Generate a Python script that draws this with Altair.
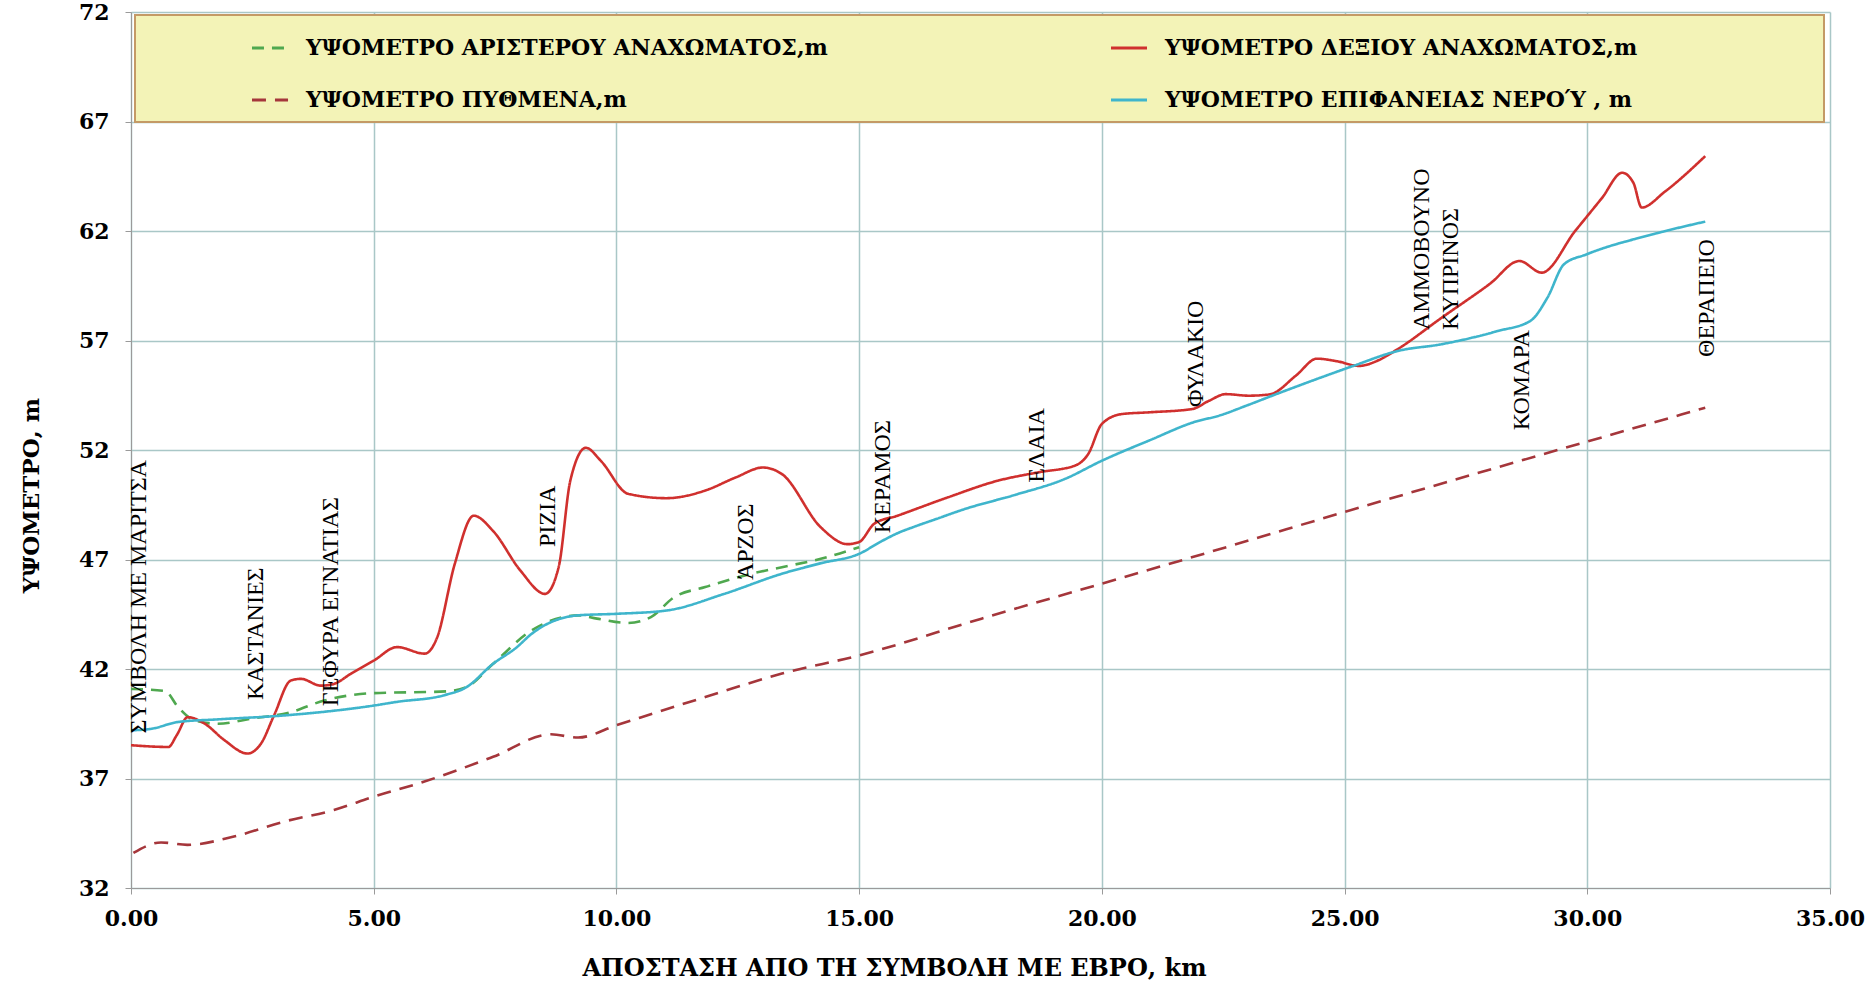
import altair as alt
import pandas as pd

# ---- series (km, m) ----
RIGHT_KM = [0.0, 0.77, 0.94, 1.17, 1.52, 1.93, 2.4, 2.68, 2.95, 3.29, 3.5, 3.91, 4.18, 4.52, 5.0, 5.48,
            6.05, 6.3, 6.67, 7.06, 7.46, 8.02, 8.53, 8.81, 9.05, 9.37, 9.68, 10.24, 11.03, 11.83, 12.46,
            13.02, 13.41, 14.21, 14.76, 15.0, 15.31, 15.79, 16.83, 17.86, 18.69, 19.45, 19.72, 20.0,
            20.41, 20.97, 21.86, 22.21, 22.55, 23.03, 23.46, 24.0, 24.43, 24.85, 25.3, 25.7, 26.09,
            27.0, 28.0, 28.6, 29.06, 29.75, 30.3, 30.72, 30.95, 31.12, 31.6, 32.43]
RIGHT_M = [38.52, 38.44, 38.97, 39.8, 39.5, 38.74, 38.14, 38.6, 39.9, 41.47, 41.55, 41.24, 41.32, 41.77,
           42.38, 43.0, 42.7, 43.4, 46.8, 49.0, 48.3, 46.5, 45.43, 46.65, 50.6, 52.1, 51.5, 50.0, 49.8,
           50.15, 50.75, 51.2, 50.9, 48.47, 47.7, 47.8, 48.63, 49.0, 49.84, 50.6, 50.98, 51.29, 51.82,
           53.19, 53.64, 53.72, 53.87, 54.25, 54.55, 54.48, 54.54, 55.4, 56.17, 56.05, 55.84, 56.1,
           56.6, 58.04, 59.6, 60.63, 60.1, 62.0, 63.5, 64.66, 64.2, 63.07, 63.8, 65.42]

WATER_KM = [0.0, 0.42, 0.97, 1.79, 3.16, 5.0, 5.48, 6.43, 6.91, 7.46, 7.94, 8.25, 9.21, 10.0, 11.03,
            12.22, 13.41, 14.21, 15.0, 15.45, 15.79, 16.14, 16.59, 17.17, 18.21, 19.24, 20.0,
            20.97, 22.0, 22.34, 23.03, 23.58, 24.5, 25.18, 26.09, 27.0, 28.15, 28.83, 29.18, 29.52,
            29.98, 31.35, 32.43]
WATER_M = [39.2, 39.27, 39.58, 39.7, 39.88, 40.33, 40.5, 40.79, 41.17, 42.24, 42.98, 43.6, 44.45, 44.52,
           44.67, 45.43, 46.35, 46.83, 47.26, 47.82, 48.2, 48.5, 48.85, 49.3, 49.95, 50.68,
           51.51, 52.43, 53.34, 53.52, 54.07, 54.54, 55.3, 55.84, 56.52, 56.83, 57.43, 57.9, 58.96,
           60.48, 60.93, 61.85, 62.43]

LEFT_KM = [0.0, 0.7, 0.97, 1.31, 1.79, 2.47, 3.29, 3.98, 4.93, 6.5, 6.91, 7.46, 8.25, 9.21, 9.6, 10.24,
           10.71, 11.19, 11.83, 12.78, 13.41, 14.21, 15.0]
LEFT_M = [41.09, 41.0, 40.26, 39.65, 39.5, 39.73, 40.03, 40.56, 40.89, 40.98, 41.17, 42.24, 43.76, 44.45,
          44.3, 44.1, 44.37, 45.28, 45.74, 46.35, 46.65, 47.03, 47.56]

BED_KM = [0.05, 0.62, 1.16, 2.12, 3.15, 4.18, 5.0, 6.03, 7.46, 8.65, 9.21, 10.0, 11.83, 13.41, 15.0,
          17.52, 20.0, 23.03, 23.8, 32.43]
BED_M = [33.6, 34.08, 33.97, 34.35, 35.03, 35.56, 36.17, 36.85, 37.99, 39.02, 38.87, 39.43, 40.72, 41.79,
         42.62, 44.3, 45.9, 47.87, 48.38, 53.93]

S_LEFT = "ΥΨΟΜΕΤΡΟ ΑΡΙΣΤΕΡΟΥ ΑΝΑΧΩΜΑΤΟΣ,m"
S_RIGHT = "ΥΨΟΜΕΤΡΟ  ΔΕΞΙΟΥ ΑΝΑΧΩΜΑΤΟΣ,m"
S_BED = "ΥΨΟΜΕΤΡΟ ΠΥΘΜΕΝΑ,m"
S_WATER = "ΥΨΟΜΕΤΡΟ  ΕΠΙΦΑΝΕΙΑΣ ΝΕΡΟΎ , m"
# legend fills column by column: left column = left bank, bed; right column = right bank, water
SERIES = [S_LEFT, S_BED, S_RIGHT, S_WATER]
COLORS = ["#4FA84F", "#A5363B", "#D0302E", "#3FB5CC"]
DASHES = [[12, 8], [14, 9], [1, 0], [1, 0]]

# ---- place labels ----
PLACES = ["ΣΥΜΒΟΛΗ ΜΕ ΜΑΡΙΤΣΑ", "ΚΑΣΤΑΝΙΕΣ", "ΓΕΦΥΡΑ ΕΓΝΑΤΙΑΣ", "ΡΙΖΙΑ", "ΆΡΖΟΣ", "ΚΕΡΑΜΟΣ",
          "ΕΛΑΙΑ", "ΦΥΛΑΚΙΟ", "ΑΜΜΟΒΟΥΝΟ", "ΚΥΠΡΙΝΟΣ", "ΚΟΜΑΡΑ", "ΘΕΡΑΠΕΙΟ"]
PLACE_KM = [0.17, 2.57, 4.12, 8.59, 12.67, 15.49, 18.66, 21.93, 26.6, 27.19, 28.66, 32.47]
PLACE_M = [39.05, 40.58, 40.3, 47.57, 46.06, 48.2, 50.5, 53.96, 57.48, 57.48, 52.9, 56.25]

rows = []
for name, xs, ys in [(S_LEFT, LEFT_KM, LEFT_M), (S_RIGHT, RIGHT_KM, RIGHT_M),
                     (S_BED, BED_KM, BED_M), (S_WATER, WATER_KM, WATER_M)]:
    for i, (a, b) in enumerate(zip(xs, ys)):
        rows.append({"series": name, "km": a, "m": b, "idx": i})
df = pd.DataFrame(rows)
places = pd.DataFrame({"name": PLACES, "km": PLACE_KM, "m": PLACE_M})

GRID = "#A9C7C7"
xenc = alt.X("km:Q", scale=alt.Scale(domain=[0, 35], nice=False),
             axis=alt.Axis(values=[0, 5, 10, 15, 20, 25, 30, 35], format=".2f", labelFlush=False,
                           labelFont="DejaVu Serif", labelFontWeight="bold", labelFontSize=22,
                           labelColor="black", labelPadding=14, tickSize=6, tickColor="#9a9a9a",
                           domainColor="#9a9a9a", gridColor=GRID, gridWidth=1.5,
                           title="ΑΠΟΣΤΑΣΗ ΑΠΟ ΤΗ ΣΥΜΒΟΛΗ ΜΕ ΕΒΡΟ, km", titleFont="DejaVu Serif",
                           titleFontWeight="bold", titleFontSize=24, titleColor="black",
                           titleX=763, titleY=80, titleAlign="center", titleBaseline="middle"))
yenc = alt.Y("m:Q", scale=alt.Scale(domain=[32, 72], nice=False, zero=False),
             axis=alt.Axis(values=[32, 37, 42, 47, 52, 57, 62, 67, 72], format="d", labelFlush=False,
                           labelFont="DejaVu Serif", labelFontWeight="bold", labelFontSize=22,
                           labelColor="black", labelPadding=16, tickSize=6, tickColor="#9a9a9a",
                           domainColor="#9a9a9a", gridColor=GRID, gridWidth=1.5,
                           title="ΥΨΟΜΕΤΡΟ, m", titleFont="DejaVu Serif", titleFontWeight="bold",
                           titleFontSize=23, titleColor="black", titleX=-100, titleY=483,
                           titleAlign="center", titleBaseline="middle"))

leg = alt.Legend(title=None, orient="none", legendX=119, legendY=16, columns=2, symbolType="stroke",
                 symbolSize=1300, symbolStrokeWidth=3, labelFont="DejaVu Serif", labelFontWeight="bold",
                 labelFontSize=22, labelColor="black", labelLimit=0, labelOffset=16, rowPadding=21,
                 columnPadding=276, padding=0, zindex=1)

box = alt.Chart(pd.DataFrame({"a": [0]})).mark_rect(
    fill="#F3F3B7", stroke="#C49A66", strokeWidth=2
).encode(x=alt.value(4), x2=alt.value(1693), y=alt.value(3), y2=alt.value(110))

lines = alt.Chart(df).mark_line(interpolate="monotone", strokeWidth=2.6).encode(
    x=xenc, y=yenc,
    color=alt.Color("series:N", scale=alt.Scale(domain=SERIES, range=COLORS), legend=leg),
    strokeDash=alt.StrokeDash("series:N", scale=alt.Scale(domain=SERIES, range=DASHES), legend=leg),
    order="idx:Q",
)

labels = alt.Chart(places).mark_text(
    angle=270, align="left", baseline="middle", font="Liberation Serif", fontSize=24, color="black"
).encode(x=xenc, y=yenc, text="name:N")

chart = alt.layer(box, lines, labels).properties(
    width=1699, height=876,
    autosize=alt.AutoSizeParams(type="none"),
    padding={"left": 131, "top": 12, "right": 39, "bottom": 98},
    background="white",
).configure_view(strokeWidth=0)

chart.save("out.html", embed_options={"renderer": "svg", "actions": False})
